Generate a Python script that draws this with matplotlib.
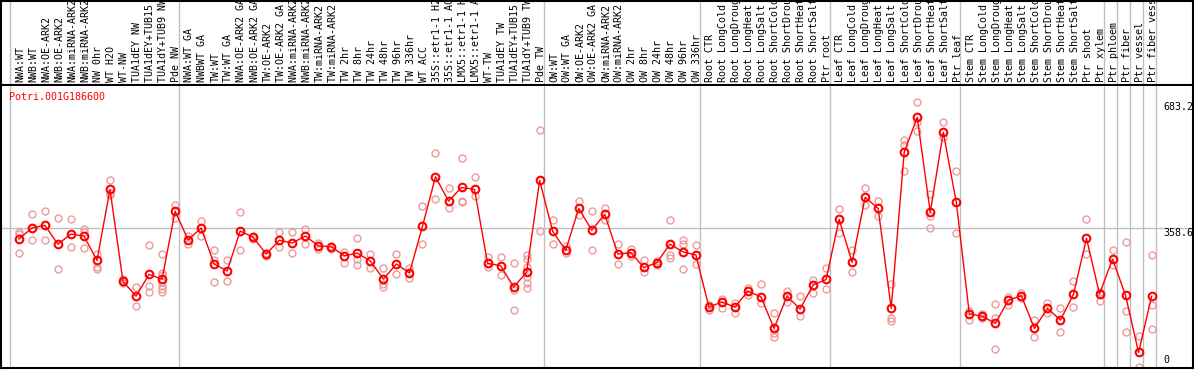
import matplotlib
matplotlib.use("Agg")
import matplotlib.pyplot as plt
import matplotlib.transforms as mtransforms

# Sample labels (one per column)
labels = [
    "NWA:WT", "NWB:WT", "NWA:OE-ARK2", "NWB:OE-ARK2", "NWA:miRNA-ARK2", "NWB:miRNA-ARK2",
    "NW 0hr", "WT H2O", "WT-NW", "TUA1dEY NW", "TUA1dEY+TUB15 NW", "TUA1dY+TUB9 NW", "Pde NW",
    "NWA:WT GA", "NWBWT GA", "TW:WT", "TW:WT GA", "NWA:OE-ARK2 GA", "NWB:OE-ARK2 GA",
    "TW:OE-ARK2", "TW:OE-ARK2 GA", "NWA:miRNA-ARK2 GA", "NWB:miRNA-ARK2 GA", "TW:miRNA-ARK2",
    "TW:miRNA-ARK2 GA", "TW 2hr", "TW 8hr", "TW 24hr", "TW 48hr", "TW 96hr", "TW 336hr",
    "WT ACC", "35S::etr1-1 H2O", "35S::etr1-1 ACC", "LMX5::etr1-1 H2O", "LMX5::etr1-1 ACC",
    "WT-TW", "TUA1dEY TW", "TUA1dEY+TUB15 TW", "TUA1dY+TUB9 TW", "Pde TW",
    "OW:WT", "OW:WT GA", "OW:OE-ARK2", "OW:OE-ARK2 GA", "OW:miRNA-ARK2", "OW:miRNA-ARK2 GA",
    "OW 2hr", "OW 8hr", "OW 24hr", "OW 48hr", "OW 96hr", "OW 336hr",
    "Root CTR", "Root LongCold", "Root LongDrought", "Root LongHeat", "Root LongSalt",
    "Root ShortCold", "Root ShortDrought", "Root ShortHeat", "Root ShortSalt", "Ptr root",
    "Leaf CTR", "Leaf LongCold", "Leaf LongDrought", "Leaf LongHeat", "Leaf LongSalt",
    "Leaf ShortCold", "Leaf ShortDrought", "Leaf ShortHeat", "Leaf ShortSalt", "Ptr leaf",
    "Stem CTR", "Stem LongCold", "Stem LongDrought", "Stem LongHeat", "Stem LongSalt",
    "Stem ShortCold", "Stem ShortDrought", "Stem ShortHeat", "Stem ShortSalt", "Ptr shoot", "Ptr xylem",
    "Ptr phloem", "Ptr fiber", "Ptr vessel", "Ptr fiber vessel",
]

# group boundaries (column index where a new group starts)
group_edges = [0, 13, 41, 53, 63, 73, 84, 85, 86, 87, 88]

# mean expression per sample
means = [
    330, 358.6, 365.5, 317, 343, 338, 275, 458, 221, 183, 239, 227, 402,
    328, 358.6, 266, 248, 351, 334.6, 291.6, 327, 320, 338, 313, 310, 287, 294, 273.5,
    227, 266, 242.7, 363, 490.7, 428, 463, 458, 267.6, 261.5, 206.6, 244.5, 481,
    350, 301, 409, 353, 394, 291.6, 295, 257, 269, 317, 297.5, 289,
    155, 168, 155, 196, 181, 100, 183, 150, 211.7, 226,
    381, 270, 437.7, 409, 151.7, 554, 643.7, 399, 605, 424.8,
    137.8, 131, 113, 173, 184, 100, 151.7, 121.6, 187.8, 332, 188.6,
    278.7, 185, 38, 182.6,
]

# replicate values per sample
reps = [
    [349, 343, 294], [394, 329], [402, 329], [383.5, 252], [382, 309], [357, 349, 307],
    [291, 259, 254], [482, 448, 444], [228, 216], [207, 158], [315, 209, 193],
    [292, 243, 237, 220, 210, 201, 193], [418, 383.5],
    [338, 317], [377, 339], [301, 277, 219], [275, 221], [400, 301], [338, 331],
    [295, 287], [348, 309], [347.5, 294], [356, 317], [319, 304], [313, 304],
    [297.5, 269], [333, 279, 263], [291.6, 255], [255, 213.5, 206], [291.6, 240],
    [255, 229], [414.5, 317], [552, 432.5], [461, 409], [538, 428, 425], [489, 442],
    [283, 257], [283, 237], [268, 199, 146.6], [290, 279, 259, 233, 218, 203], [610, 350],
    [378, 317], [312, 293], [428, 392], [402, 301], [409, 379], [317, 266],
    [304, 287], [275, 246], [273.5, 264], [378, 289, 280.5], [327.7, 317, 252], [314, 266],
    [160, 147], [176.5, 151.7], [164.6, 139], [203, 186], [214, 164.6], [139, 87, 77],
    [196, 168], [182.6, 131], [224.6, 192], [255, 200.7],
    [407.5, 345], [302, 245], [461, 417], [428, 389.5], [214, 126, 119], [585, 571.6, 505],
    [683.2, 632, 607.7], [446, 389.5, 357.8], [631, 593.7], [505, 345],
    [144.8, 121.6], [137, 126], [162, 126, 47], [181.6, 160], [191, 177.5], [121.6, 78.6],
    [164.6, 139], [151.7, 90], [222, 154], [381, 291], [194.5, 171],
    [301, 263], [321.7, 144, 90], [81, 0], [289, 160, 98.4],
]

gene = "Potri.001G186600"
yticks = [0, 358.6, 683.2]

FONT = "DejaVu Sans Mono"
FS = 7.2
GRID = "#c0c0c0"

W, H = 1194, 370
fig = plt.figure(figsize=(W / 100, H / 100), dpi=100)

xmin, xmax = -0.691, 90.86
xs = [i + 0.68 for i in range(len(means))]

# label strip on top (long names get cut by the frame, like the original)
lab = fig.add_axes([1 / W, (H - 85) / H, 1192 / W, 84 / H])
lab.set_xlim(xmin, xmax)
lab.set_ylim(0, 1)
lab.set_xticks([])
lab.set_yticks([])
for s in lab.spines.values():
    s.set_color("black")
    s.set_linewidth(1.5)
for e in group_edges:
    lab.axvline(e, color=GRID, lw=1, zorder=0)
for x, name in zip(xs, labels):
    lab.text(x + 0.1, 0.03, name, rotation=90, ha="center", va="bottom",
             fontsize=FS, family=FONT, clip_on=True)

# main plot
ax = fig.add_axes([1 / W, 2 / H, 1192 / W, 282 / H])
ax.set_xlim(xmin, xmax)
ax.set_ylim(-2, 724.4)
ax.set_xticks([])
ax.set_yticks([])
ax.spines["top"].set_visible(False)
for side in ["left", "right", "bottom"]:
    ax.spines[side].set_color("black")
    ax.spines[side].set_linewidth(1.5)

for e in group_edges:
    ax.axvline(e, color=GRID, lw=1, zorder=0)
ax.axhline(yticks[1], color=GRID, lw=1, zorder=0)

rx, ry = [], []
for x, vals in zip(xs, reps):
    for v in vals:
        rx.append(x)
        ry.append(v)
ax.plot(rx, ry, linestyle="none", marker="o", ms=5, mfc="none",
        mec="#ee9a9a", mew=1, zorder=2)
ax.plot(xs, means, color="red", lw=1, zorder=3)
ax.plot(xs, means, linestyle="none", marker="o", ms=5.5, mfc="none",
        mec="red", mew=1.5, zorder=4)

ax.text(0.007, 0.961, gene, transform=ax.transAxes, color="red",
        fontsize=FS, family=FONT, ha="left", va="center")

tr = mtransforms.blended_transform_factory(ax.transAxes, ax.transData)
tx = (1163 - 1) / 1192
ax.text(tx, yticks[2], "683.2", transform=tr, fontsize=FS, family=FONT, va="top", ha="left")
ax.text(tx, yticks[1], "358.6", transform=tr, fontsize=FS, family=FONT, va="top", ha="left")
ax.text(tx, 0.01, "0", transform=ax.transAxes, fontsize=FS, family=FONT, va="bottom", ha="left")

fig.savefig("out.png", dpi=100)
